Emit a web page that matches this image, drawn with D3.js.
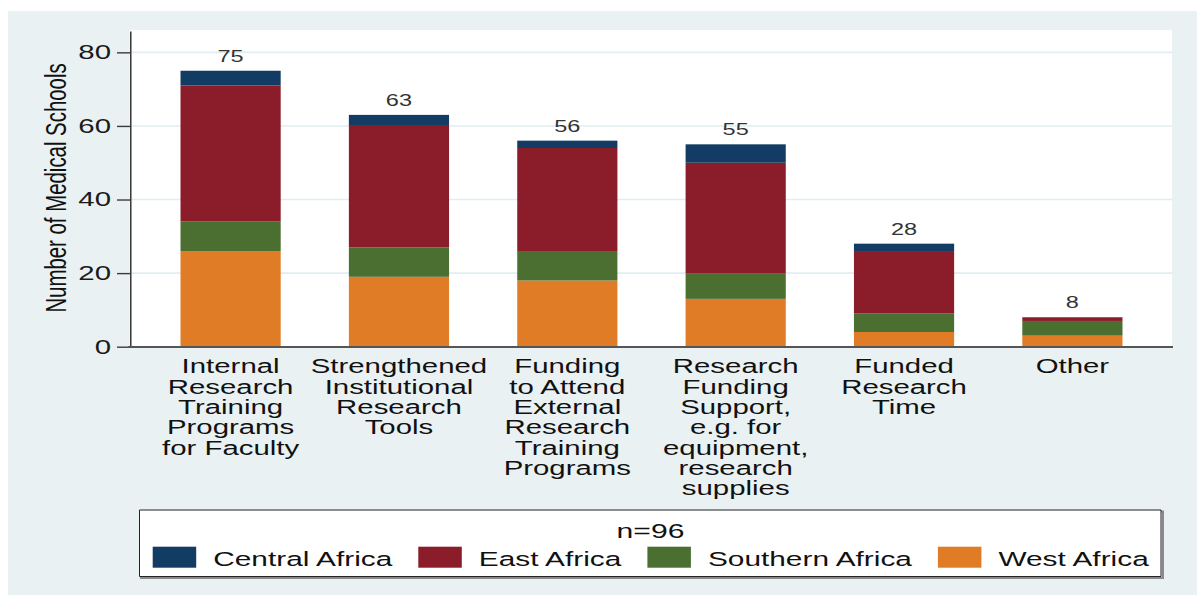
<!DOCTYPE html>
<html>
<head>
<meta charset="utf-8">
<script src="https://cdn.jsdelivr.net/npm/d3@7"></script>
<style>
body { margin: 0; background: #fff; }
svg { display: block; font-family: "Liberation Sans", Arial, sans-serif; }
.ln { vector-effect: non-scaling-stroke; }
</style>
</head>
<body>
<script>
// category labels, one array of lines per bar
var categories = [
    ["Internal", "Research", "Training", "Programs", "for Faculty"],
    ["Strengthened", "Institutional", "Research", "Tools"],
    ["Funding", "to Attend", "External", "Research", "Training", "Programs"],
    ["Research", "Funding", "Support,", "e.g. for", "equipment,", "research", "supplies"],
    ["Funded", "Research", "Time"],
    ["Other"]
];

// series values (number of medical schools per region)
var westAfrica     = [26, 19, 18, 13, 4, 3];
var southernAfrica = [8, 8, 8, 7, 5, 4];
var eastAfrica     = [37, 33, 28, 30, 17, 1];
var centralAfrica  = [4, 3, 2, 5, 2, 0];

var legendNames = ["Central Africa", "East Africa", "Southern Africa", "West Africa"];
var legendTitle = "n=96";
var yTicks = [0, 20, 40, 60, 80];
var yTitle = "Number of Medical Schools";

// the reference is stretched horizontally, so the svg is too
var SX = 1.47;
var W = 1197, H = 595;
function X(px) { return px / SX; }

var colors = {
    "Central Africa": "#123c63",
    "East Africa": "#8a1d29",
    "Southern Africa": "#4b6e31",
    "West Africa": "#e07c25"
};

var svg = d3.select("body").append("svg")
    .attr("width", W)
    .attr("height", H)
    .attr("viewBox", "0 0 " + X(W) + " " + H)
    .attr("preserveAspectRatio", "none");

// graph region background
svg.append("rect")
    .attr("x", X(8)).attr("y", 11)
    .attr("width", X(W - 8)).attr("height", H - 11)
    .attr("fill", "#e9f1f3");

// plot region
svg.append("rect")
    .attr("x", X(129)).attr("y", 30)
    .attr("width", X(1172 - 129)).attr("height", 347 - 30)
    .attr("fill", "#ffffff");

var rows = categories.map(function(c, i) {
    return {
        idx: i,
        "West Africa": westAfrica[i],
        "Southern Africa": southernAfrica[i],
        "East Africa": eastAfrica[i],
        "Central Africa": centralAfrica[i]
    };
});

var stackKeys = ["West Africa", "Southern Africa", "East Africa", "Central Africa"];
var series = d3.stack().keys(stackKeys)(rows);

var x = d3.scaleBand()
    .domain(d3.range(categories.length))
    .range([X(130), X(1173)])
    .paddingInner(0.405)
    .paddingOuter(0.3);

var y = d3.scaleLinear()
    .domain([0, 85.8])
    .range([346.7, 31]);

// gridlines
svg.append("g")
    .selectAll("line")
    .data(yTicks.slice(1))
    .enter().append("line")
        .attr("class", "ln")
        .attr("x1", X(130)).attr("x2", X(1172))
        .attr("y1", function(d) { return y(d); })
        .attr("y2", function(d) { return y(d); })
        .attr("stroke", "#e1edf1")
        .attr("stroke-width", 1.6);

// stacked bars
svg.append("g")
    .selectAll("g")
    .data(series)
    .enter().append("g")
        .attr("fill", function(d) { return colors[d.key]; })
    .selectAll("rect")
    .data(function(d) { return d; })
    .enter().append("rect")
        .attr("x", function(d) { return x(d.data.idx); })
        .attr("width", x.bandwidth())
        .attr("y", function(d) { return y(d[1]); })
        .attr("height", function(d) { return y(d[0]) - y(d[1]); });

// totals above bars
var totals = rows.map(function(r) {
    return stackKeys.reduce(function(s, k) { return s + r[k]; }, 0);
});

svg.append("g")
    .selectAll("text")
    .data(totals)
    .enter().append("text")
        .attr("x", function(d, i) { return x(i) + x.bandwidth() / 2; })
        .attr("y", function(d) { return y(d) - 9; })
        .attr("text-anchor", "middle")
        .attr("font-size", 16)
        .attr("fill", "#333")
        .text(function(d) { return d; });

// y axis
var yAxis = d3.axisLeft(y)
    .tickValues(yTicks)
    .tickSize(X(13))
    .tickSizeOuter(0)
    .tickPadding(X(6));

var gy = svg.append("g")
    .attr("transform", "translate(" + X(130) + ",0)")
    .call(yAxis);
gy.select(".domain").attr("class", "domain ln").attr("stroke", "#3a3a3a").attr("stroke-width", 1.6);
gy.selectAll(".tick line").attr("class", "ln").attr("stroke", "#3a3a3a").attr("stroke-width", 1.4);
gy.selectAll(".tick text")
    .attr("font-size", 20)
    .attr("font-family", "Liberation Sans, Arial, sans-serif")
    .attr("fill", "#1a1a1a");

// x axis line
svg.append("line")
    .attr("class", "ln")
    .attr("x1", X(128)).attr("x2", X(1173))
    .attr("y1", 347).attr("y2", 347)
    .attr("stroke", "#555")
    .attr("stroke-width", 2);

// category labels
var catText = svg.append("g")
    .selectAll("text")
    .data(categories)
    .enter().append("text")
        .attr("text-anchor", "middle")
        .attr("font-size", 20)
        .attr("fill", "#111");

catText.selectAll("tspan")
    .data(function(d, i) { return d.map(function(t) { return {t: t, i: i}; }); })
    .enter().append("tspan")
        .attr("x", function(d) { return x(d.i) + x.bandwidth() / 2; })
        .attr("y", function(d, j) { return 373.5 + j * 20.3; })
        .text(function(d) { return d.t; });

// y title
svg.append("text")
    .attr("transform", "translate(" + X(66) + ",188) rotate(-90)")
    .attr("text-anchor", "middle")
    .attr("font-size", 20.4)
    .attr("fill", "#111")
    .text(yTitle);

// legend
var lg = svg.append("g");
lg.append("rect")
    .attr("class", "ln")
    .attr("x", X(141)).attr("y", 511.5)
    .attr("width", X(1162 - 140)).attr("height", 577.5 - 511)
    .attr("fill", "none")
    .attr("stroke", "#8a8a8a")
    .attr("stroke-width", 2);
lg.append("rect")
    .attr("class", "ln")
    .attr("x", X(139.5)).attr("y", 510)
    .attr("width", X(1161 - 139.5)).attr("height", 576.5 - 510)
    .attr("fill", "#ffffff")
    .attr("stroke", "#222")
    .attr("stroke-width", 1);

lg.append("text")
    .attr("x", X(650.5)).attr("y", 537.7)
    .attr("text-anchor", "middle")
    .attr("font-size", 20.5)
    .attr("fill", "#111")
    .text(legendTitle);

var cursor = X(152.7);
legendNames.forEach(function(name) {
    lg.append("rect")
        .attr("x", cursor).attr("y", 546.7)
        .attr("width", X(43.5)).attr("height", 21)
        .attr("fill", colors[name]);
    cursor += X(43.5 + 17);
    var t = lg.append("text")
        .attr("x", cursor).attr("y", 566)
        .attr("font-size", 20.3)
        .attr("fill", "#111")
        .text(name);
    cursor += t.node().getComputedTextLength() + X(26);
});
</script>
</body>
</html>
